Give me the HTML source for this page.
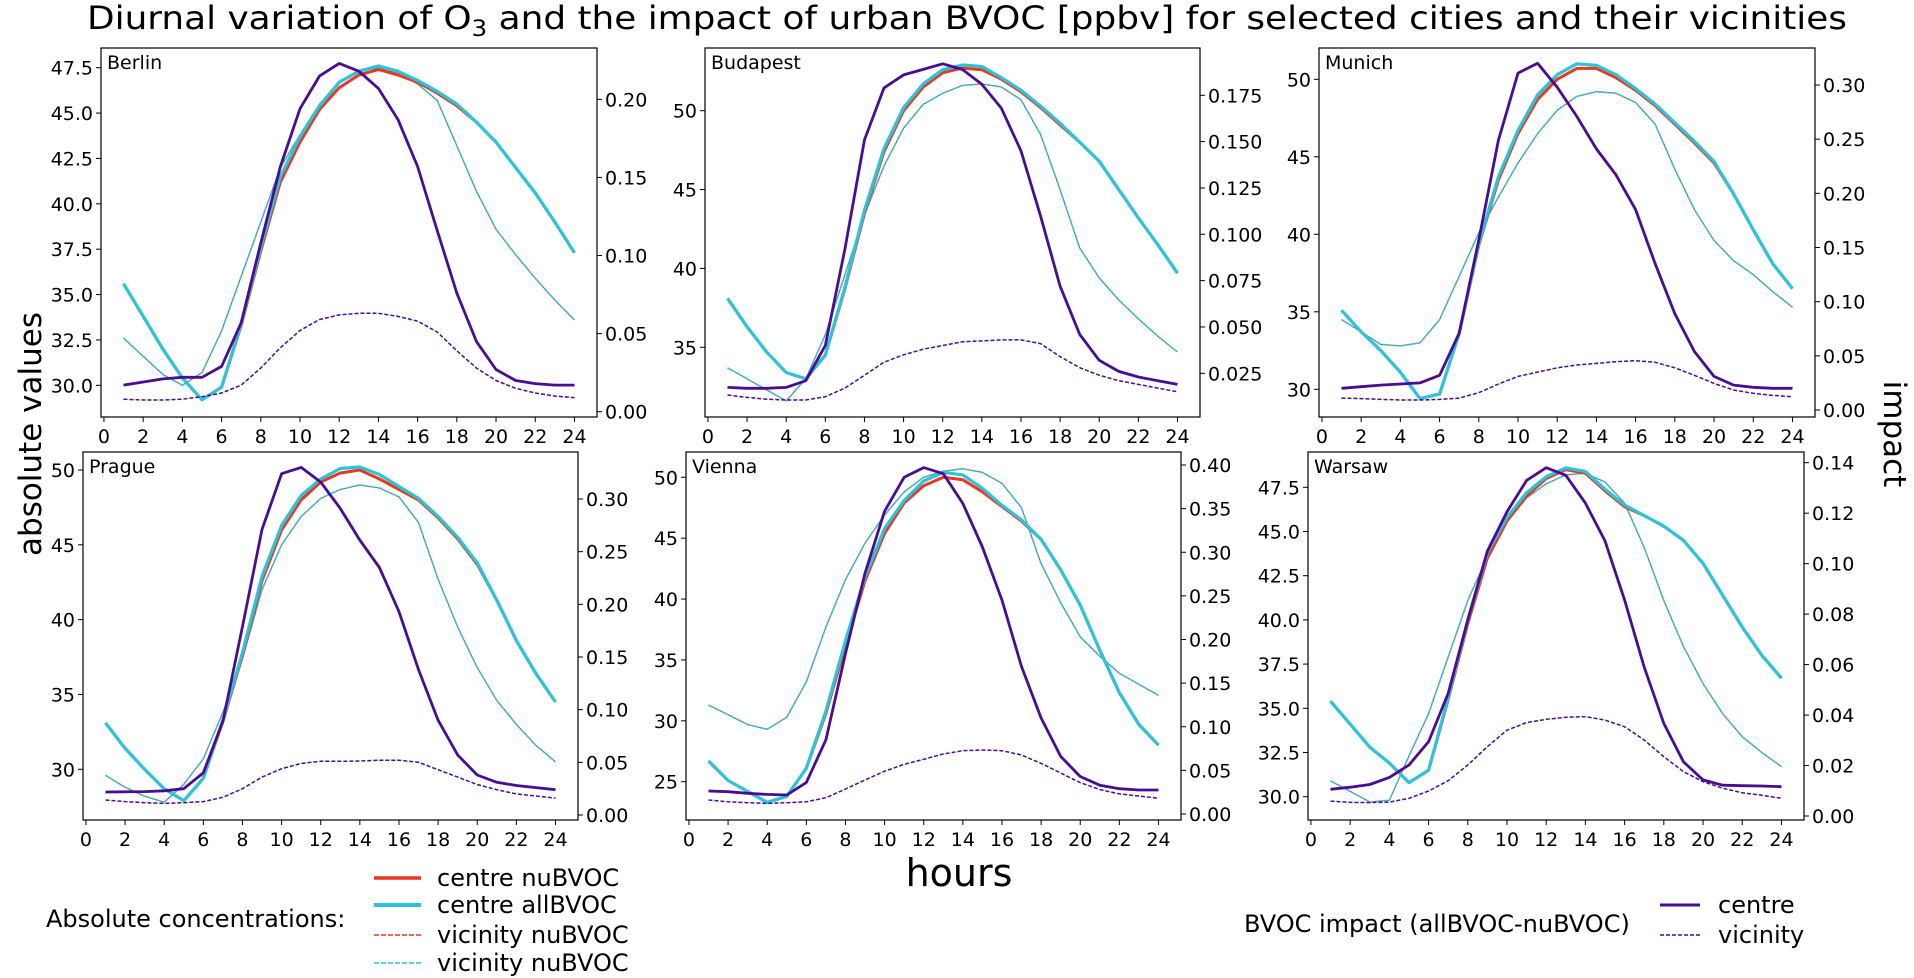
<!DOCTYPE html>
<html><head><meta charset="utf-8">
<style>
html,body{margin:0;padding:0;background:#fff;}
svg{display:block;font-family:"DejaVu Sans","Liberation Sans",sans-serif;}
</style></head>
<body>
<svg id="chart" width="1914" height="978" viewBox="0 0 1914 978" xmlns="http://www.w3.org/2000/svg">
<text x="967" y="29" font-size="32" text-anchor="middle" textLength="1760" lengthAdjust="spacingAndGlyphs">Diurnal variation of O<tspan font-size="22" dy="7">3</tspan><tspan dy="-7"> and the impact of urban BVOC [ppbv] for selected cities and their vicinities</tspan></text>
<text transform="translate(41,434) rotate(-90)" font-size="31" text-anchor="middle">absolute values</text>
<text transform="translate(1884,434) rotate(90)" font-size="31" text-anchor="middle">impact</text>
<text x="959" y="886" font-size="38" text-anchor="middle">hours</text>
<g id="panels"></g>
<g>
<text x="46" y="927" font-size="24">Absolute concentrations:</text>
<line x1="374" y1="878" x2="421" y2="878" stroke="#e8391f" stroke-width="3.5"/>
<text x="437" y="886" font-size="24">centre nuBVOC</text>
<line x1="374" y1="905" x2="421" y2="905" stroke="#2bc4da" stroke-width="4"/>
<text x="437" y="913" font-size="24">centre allBVOC</text>
<line x1="374" y1="935" x2="421" y2="935" stroke="#e8391f" stroke-width="1.6" stroke-dasharray="5,2"/>
<text x="437" y="943" font-size="24">vicinity nuBVOC</text>
<line x1="374" y1="963" x2="421" y2="963" stroke="#2bc4da" stroke-width="1.6" stroke-dasharray="5,2"/>
<text x="437" y="971" font-size="24">vicinity nuBVOC</text>
</g>
<g>
<text x="1244" y="932" font-size="24">BVOC impact (allBVOC-nuBVOC)</text>
<line x1="1660" y1="905" x2="1700" y2="905" stroke="#4a0c91" stroke-width="3"/>
<text x="1718" y="913" font-size="24">centre</text>
<line x1="1660" y1="935" x2="1700" y2="935" stroke="#4a0c91" stroke-width="1.6" stroke-dasharray="4,2"/>
<text x="1718" y="943" font-size="24">vicinity</text>
</g>
</svg>
<script>
const hours = [1,2,3,4,5,6,7,8,9,10,11,12,13,14,15,16,17,18,19,20,21,22,23,24];
const cities = ["Berlin","Budapest","Munich","Prague","Vienna","Warsaw"];

const berlinNuCentre = [35.6,33.8,32.0,30.4,29.2,29.9,33.3,37.4,41.2,43.4,45.2,46.4,47.1,47.4,47.1,46.7,46.1,45.4,44.5,43.4,42.0,40.6,39.0,37.3];
const berlinAllCentre = [35.6,33.8,32.0,30.4,29.2,29.9,33.4,37.6,41.5,43.7,45.4,46.7,47.3,47.6,47.3,46.8,46.2,45.5,44.5,43.4,42.0,40.6,39.0,37.3];
const berlinNuVicinity = [32.6,31.6,30.6,30.0,30.7,33.0,36.0,39.0,42.0,43.8,45.5,46.7,47.3,47.5,47.2,46.6,45.7,43.2,40.7,38.6,37.2,35.9,34.7,33.6];
const berlinAllVicinity = [32.6,31.6,30.6,30.0,30.7,33.0,36.0,39.0,42.0,43.8,45.5,46.7,47.3,47.5,47.2,46.6,45.7,43.2,40.7,38.6,37.2,35.9,34.7,33.6];
const berlinImpactCentre = [0.017,0.019,0.021,0.022,0.022,0.029,0.057,0.108,0.157,0.194,0.215,0.223,0.218,0.207,0.187,0.157,0.116,0.076,0.045,0.027,0.020,0.018,0.017,0.017];
const berlinImpactVicinity = [0.008,0.0075,0.0075,0.008,0.0096,0.012,0.017,0.028,0.041,0.052,0.059,0.062,0.063,0.063,0.061,0.058,0.051,0.039,0.028,0.020,0.015,0.012,0.010,0.009];

const budapestNuCentre = [38.1,36.3,34.7,33.4,33.0,34.5,38.7,43.5,47.4,50.0,51.5,52.4,52.7,52.6,52.0,51.2,50.2,49.1,48.0,46.8,45.0,43.2,41.5,39.7];
const budapestAllCentre = [38.1,36.3,34.7,33.4,33.0,34.5,38.8,43.7,47.6,50.2,51.7,52.6,52.9,52.8,52.1,51.3,50.3,49.2,48.0,46.8,45.0,43.2,41.5,39.7];
const budapestNuVicinity = [33.7,33.0,32.3,31.6,33.0,35.8,39.6,43.4,46.5,48.9,50.4,51.1,51.6,51.7,51.5,50.7,48.5,45.0,41.3,39.4,38.0,36.8,35.7,34.7];
const budapestAllVicinity = [33.7,33.0,32.3,31.6,33.0,35.8,39.6,43.4,46.5,48.9,50.4,51.1,51.6,51.7,51.5,50.7,48.5,45.0,41.3,39.4,38.0,36.8,35.7,34.7];
const budapestImpactCentre = [0.0174,0.0169,0.0169,0.0174,0.021,0.040,0.092,0.151,0.179,0.186,0.189,0.192,0.189,0.181,0.168,0.145,0.110,0.072,0.046,0.032,0.026,0.023,0.021,0.019];
const budapestImpactVicinity = [0.0133,0.012,0.011,0.0106,0.0106,0.0124,0.017,0.024,0.031,0.035,0.038,0.040,0.042,0.0425,0.043,0.043,0.041,0.034,0.028,0.024,0.021,0.019,0.017,0.015];

const munichNuCentre = [35.1,33.7,32.5,31.1,29.4,29.7,33.6,39.3,43.5,46.5,48.7,50.0,50.7,50.7,50.1,49.3,48.3,47.1,45.9,44.6,42.6,40.3,38.1,36.5];
const munichAllCentre = [35.1,33.7,32.5,31.1,29.4,29.7,33.6,39.4,43.7,46.7,49.0,50.3,51.0,50.9,50.3,49.4,48.4,47.2,46.0,44.7,42.6,40.3,38.1,36.5];
const munichNuVicinity = [34.5,33.7,32.9,32.8,33.0,34.5,37.3,40.1,42.4,44.6,46.5,48.0,48.9,49.2,49.1,48.5,47.1,44.2,41.6,39.6,38.3,37.4,36.3,35.3];
const munichAllVicinity = [34.5,33.7,32.9,32.8,33.0,34.5,37.3,40.1,42.4,44.6,46.5,48.0,48.9,49.2,49.1,48.5,47.1,44.2,41.6,39.6,38.3,37.4,36.3,35.3];
const munichImpactCentre = [0.020,0.0215,0.023,0.024,0.025,0.032,0.071,0.157,0.249,0.311,0.320,0.298,0.271,0.241,0.217,0.185,0.135,0.089,0.054,0.031,0.023,0.021,0.020,0.020];
const munichImpactVicinity = [0.011,0.0105,0.0098,0.0092,0.0092,0.0098,0.011,0.016,0.024,0.031,0.035,0.039,0.0415,0.043,0.0446,0.0455,0.044,0.039,0.032,0.0246,0.0185,0.0154,0.0135,0.0123];

const pragueNuCentre = [33.1,31.4,30.0,28.7,27.9,29.4,33.2,37.6,42.6,46.0,48.0,49.2,49.8,50.0,49.4,48.7,48.0,46.8,45.4,43.7,41.3,38.6,36.4,34.5];
const pragueAllCentre = [33.1,31.4,30.0,28.7,27.9,29.4,33.3,37.8,42.9,46.3,48.3,49.4,50.1,50.2,49.7,48.9,48.1,46.9,45.5,43.8,41.3,38.6,36.4,34.5];
const pragueNuVicinity = [29.6,28.8,28.2,27.8,29.0,30.7,33.8,37.4,42.0,45.0,46.9,48.1,48.7,49.0,48.8,48.2,46.5,42.7,39.5,36.8,34.6,33.0,31.6,30.5];
const pragueAllVicinity = [29.6,28.8,28.2,27.8,29.0,30.7,33.8,37.4,42.0,45.0,46.9,48.1,48.7,49.0,48.8,48.2,46.5,42.7,39.5,36.8,34.6,33.0,31.6,30.5];
const pragueImpactCentre = [0.0218,0.022,0.0222,0.023,0.025,0.040,0.089,0.179,0.271,0.324,0.330,0.316,0.291,0.261,0.235,0.193,0.138,0.090,0.057,0.038,0.031,0.028,0.026,0.024];
const pragueImpactVicinity = [0.0142,0.0127,0.0117,0.011,0.0117,0.0127,0.0168,0.025,0.036,0.044,0.049,0.051,0.051,0.0513,0.052,0.052,0.050,0.043,0.036,0.029,0.024,0.020,0.018,0.016];

const viennaNuCentre = [26.7,25.1,24.2,23.3,23.8,26.1,30.6,36.2,41.5,45.4,47.9,49.3,50.0,49.8,48.8,47.6,46.4,44.9,42.4,39.5,35.8,32.3,29.7,28.0];
const viennaAllCentre = [26.7,25.1,24.2,23.3,23.8,26.1,30.8,36.6,41.8,45.8,48.1,49.7,50.4,50.2,49.1,47.7,46.5,44.9,42.4,39.5,35.8,32.3,29.7,28.0];
const viennaNuVicinity = [31.3,30.5,29.7,29.3,30.3,33.2,37.7,41.6,44.6,46.9,48.8,50.0,50.5,50.7,50.4,49.5,47.5,42.9,39.7,36.9,35.3,33.9,33.0,32.1];
const viennaAllVicinity = [31.3,30.5,29.7,29.3,30.3,33.2,37.7,41.6,44.6,46.9,48.8,50.0,50.5,50.7,50.4,49.5,47.5,42.9,39.7,36.9,35.3,33.9,33.0,32.1];
const viennaImpactCentre = [0.0264,0.0256,0.0237,0.0225,0.0218,0.036,0.085,0.184,0.276,0.347,0.386,0.397,0.390,0.356,0.306,0.245,0.169,0.110,0.066,0.043,0.033,0.029,0.0275,0.0275];
const viennaImpactVicinity = [0.016,0.014,0.013,0.0122,0.013,0.014,0.0187,0.0287,0.039,0.049,0.057,0.0627,0.0688,0.0726,0.0734,0.0726,0.0676,0.058,0.047,0.036,0.028,0.023,0.0206,0.018];

const warsawNuCentre = [35.4,34.1,32.8,31.9,30.8,31.5,35.5,39.8,43.5,45.6,47.0,48.0,48.5,48.3,47.3,46.4,45.9,45.3,44.5,43.2,41.4,39.6,38.0,36.7];
const warsawAllCentre = [35.4,34.1,32.8,31.9,30.8,31.5,35.6,40.0,43.8,45.8,47.2,48.1,48.6,48.4,47.4,46.5,45.9,45.3,44.5,43.2,41.4,39.6,38.0,36.7];
const warsawNuVicinity = [30.9,30.3,29.7,29.8,32.3,34.7,37.9,41.1,43.6,45.6,46.9,47.7,48.2,48.3,47.8,46.6,44.1,41.1,38.5,36.4,34.7,33.4,32.5,31.7];
const warsawAllVicinity = [30.9,30.3,29.7,29.8,32.3,34.7,37.9,41.1,43.6,45.6,46.9,47.7,48.2,48.3,47.8,46.6,44.1,41.1,38.5,36.4,34.7,33.4,32.5,31.7];
const warsawImpactCentre = [0.0106,0.0114,0.0125,0.0153,0.0202,0.0295,0.0486,0.0777,0.105,0.1206,0.133,0.138,0.135,0.124,0.109,0.0856,0.059,0.0367,0.0215,0.0143,0.0122,0.0120,0.0119,0.0116];
const warsawImpactVicinity = [0.0059,0.0054,0.0053,0.0055,0.007,0.0099,0.014,0.0202,0.0275,0.034,0.037,0.0383,0.0391,0.0394,0.038,0.0354,0.0301,0.0235,0.0176,0.0136,0.011,0.0092,0.0082,0.007];

const xTickLabels = ["0","2","4","6","8","10","12","14","16","18","20","22","24"];
const berlinLeftTicks = ["30.0","32.5","35.0","37.5","40.0","42.5","45.0","47.5"];
const budapestLeftTicks = ["35","40","45","50"];
const munichLeftTicks = ["30","35","40","45","50"];
const pragueLeftTicks = ["30","35","40","45","50"];
const viennaLeftTicks = ["25","30","35","40","45","50"];
const warsawLeftTicks = ["30.0","32.5","35.0","37.5","40.0","42.5","45.0","47.5"];
const berlinRightTicks = ["0.00","0.05","0.10","0.15","0.20"];
const budapestRightTicks = ["0.025","0.050","0.075","0.100","0.125","0.150","0.175"];
const munichRightTicks = ["0.00","0.05","0.10","0.15","0.20","0.25","0.30"];
const pragueRightTicks = ["0.00","0.05","0.10","0.15","0.20","0.25","0.30"];
const viennaRightTicks = ["0.00","0.05","0.10","0.15","0.20","0.25","0.30","0.35","0.40"];
const warsawRightTicks = ["0.00","0.02","0.04","0.06","0.08","0.10","0.12","0.14"];

const series = {
  Berlin:[berlinNuCentre,berlinAllCentre,berlinNuVicinity,berlinAllVicinity,berlinImpactCentre,berlinImpactVicinity,berlinLeftTicks,berlinRightTicks],
  Budapest:[budapestNuCentre,budapestAllCentre,budapestNuVicinity,budapestAllVicinity,budapestImpactCentre,budapestImpactVicinity,budapestLeftTicks,budapestRightTicks],
  Munich:[munichNuCentre,munichAllCentre,munichNuVicinity,munichAllVicinity,munichImpactCentre,munichImpactVicinity,munichLeftTicks,munichRightTicks],
  Prague:[pragueNuCentre,pragueAllCentre,pragueNuVicinity,pragueAllVicinity,pragueImpactCentre,pragueImpactVicinity,pragueLeftTicks,pragueRightTicks],
  Vienna:[viennaNuCentre,viennaAllCentre,viennaNuVicinity,viennaAllVicinity,viennaImpactCentre,viennaImpactVicinity,viennaLeftTicks,viennaRightTicks],
  Warsaw:[warsawNuCentre,warsawAllCentre,warsawNuVicinity,warsawAllVicinity,warsawImpactCentre,warsawImpactVicinity,warsawLeftTicks,warsawRightTicks]
};

const layout = {
  Berlin:{x0:101,x1:597,y0:48,y1:417,L:[47.5,67.7,30,385.3],R:[0.2,99.3,0,411.7]},
  Budapest:{x0:705,x1:1200,y0:48,y1:417,L:[50,110.7,35,347.3],R:[0.175,95.3,0.025,373.3]},
  Munich:{x0:1319,x1:1815,y0:48,y1:417,L:[50,79.3,30,389.3],R:[0.3,85,0,410]},
  Prague:{x0:83,x1:578,y0:452,y1:820,L:[50,470,30,769.3],R:[0.3,499,0,815]},
  Vienna:{x0:686,x1:1181,y0:452,y1:820,L:[50,477.3,25,781.7],R:[0.4,465,0,814]},
  Warsaw:{x0:1308,x1:1804,y0:452,y1:820,L:[47.5,487.3,30,796.7],R:[0.14,462.7,0,816]}
};

const NS = "http://www.w3.org/2000/svg";
const root = document.getElementById("panels");
function mk(tag, attrs, parent){
  const e = document.createElementNS(NS, tag);
  for (const k in attrs) e.setAttribute(k, attrs[k]);
  parent.appendChild(e);
  return e;
}
function lin(c){ const s=(c[3]-c[1])/(c[2]-c[0]); return v => c[1] + (v - c[0]) * s; }

cities.forEach(city => {
  const L = layout[city];
  const d = series[city];
  const slug = city.toLowerCase();
  const g = mk("g", {}, root);
  
  
  const xs = h => L.x0 + (h + 0.15) * (L.x1 - L.x0) / 25.3;
  const yl = lin(L.L), yr = lin(L.R);
  const clipId = "clip-" + slug;
  const cp = mk("clipPath", {id: clipId}, g);
  mk("rect", {x:L.x0, y:L.y0, width:L.x1-L.x0, height:L.y1-L.y0}, cp);

  const lines = mk("g", {"clip-path":"url(#"+clipId+")"}, g);
  const styles = [
    [2, yl, "#e8391f", 1.1, null, null, "vicinity-nubvoc-line"],
    [3, yl, "#2bc4da", 1.6, "6,2", "0", "vicinity-allbvoc-line"],
    [0, yl, "#e8391f", 3, null, null, "centre-nubvoc-line"],
    [1, yl, "#2bc4da", 3.2, null, null, "centre-allbvoc-line"],
    [5, yr, "#4a0c91", 1.5, "4,2", "0", "impact-vicinity-line"],
    [4, yr, "#4a0c91", 2.8, null, null, "impact-centre-line"]
  ];
  styles.forEach(s => {
    const arr = d[s[0]];
    const pts = hours.map((h,i) => xs(h).toFixed(1) + "," + s[1](arr[i]).toFixed(1)).join(" ");
    const p = mk("polyline", {points:pts, fill:"none", stroke:s[2], "stroke-width":s[3], "stroke-linejoin":"round"}, lines);
    if (s[4]) { p.setAttribute("stroke-dasharray", s[4]); p.setAttribute("stroke-dashoffset", s[5]); }
    
    
  });

  const frame = mk("rect", {x:L.x0, y:L.y0, width:L.x1-L.x0, height:L.y1-L.y0, fill:"none", stroke:"#000", "stroke-width":1.2}, g);
  
  

  const lab = mk("text", {x:L.x0+6, y:L.y0+21, "font-size":19}, g);
  lab.textContent = city;
  
  

  xTickLabels.forEach(t => {
    const x = xs(parseFloat(t));
    mk("line", {x1:x, y1:L.y1, x2:x, y2:L.y1+5, stroke:"#000", "stroke-width":1}, g);
    const tx = mk("text", {x:x, y:L.y1+26, "font-size":19, "text-anchor":"middle"}, g);
    tx.textContent = t;
    
    
  });
  d[6].forEach(t => {
    const y = yl(parseFloat(t));
    mk("line", {x1:L.x0-5, y1:y, x2:L.x0, y2:y, stroke:"#000", "stroke-width":1}, g);
    const tx = mk("text", {x:L.x0-8, y:y+7, "font-size":19, "text-anchor":"end"}, g);
    tx.textContent = t;
    
    
  });
  d[7].forEach(t => {
    const y = yr(parseFloat(t));
    mk("line", {x1:L.x1, y1:y, x2:L.x1+5, y2:y, stroke:"#000", "stroke-width":1}, g);
    const tx = mk("text", {x:L.x1+8, y:y+7, "font-size":19}, g);
    tx.textContent = t;
    
    
  });
});
</script>
</body></html>
